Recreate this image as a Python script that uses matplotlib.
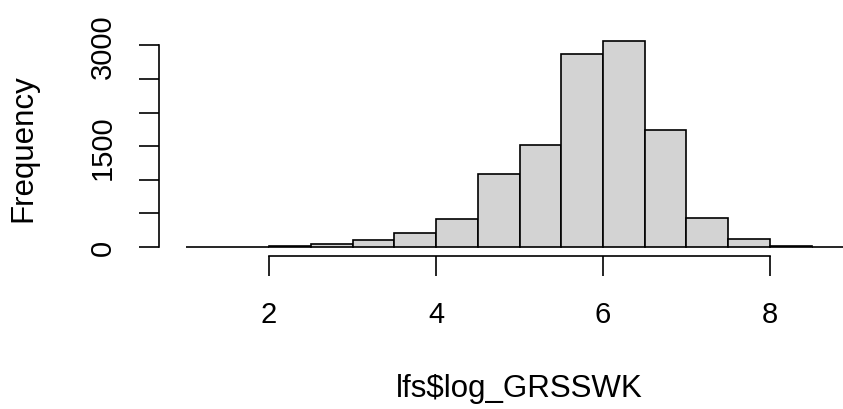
import matplotlib
matplotlib.use("Agg")
import matplotlib.pyplot as plt
import numpy as np

plt.rcParams['font.family'] = ['Liberation Sans', 'DejaVu Sans']

bin_edges = [1.0, 1.5, 2.0, 2.5, 3.0, 3.5, 4.0, 4.5, 5.0, 5.5, 6.0, 6.5, 7.0, 7.5, 8.0, 8.5, 9.0]
counts = [3, 1, 20, 50, 104, 204, 411, 1080, 1522, 2866, 3070, 1746, 431, 113, 12, 4]
x_ticks = [2, 4, 6, 8]
y_ticks = [0, 500, 1000, 1500, 2000, 2500, 3000]
y_tick_labels = ['0', '', '', '1500', '', '', '3000']
x_label = 'lfs$log_GRSSWK'
y_label = 'Frequency'

W, H = 843, 410
FS = 21
FS_LAB = 22.5
fig = plt.figure(figsize=(W / 100, H / 100), dpi=100)
ax = fig.add_axes([158.8 / W, 1 - 257 / H, (880.2 - 158.8) / W, (257 - 32) / H])
ax.set_xlim(0.68, 9.32)
ax.set_ylim(-134, 3214)

edges = np.array(bin_edges)
ax.bar(edges[:-1], counts, width=np.diff(edges), align='edge',
       color='#D3D3D3', edgecolor='black', linewidth=1.2, clip_on=False)

for s in ['top', 'right']:
    ax.spines[s].set_visible(False)
ax.spines['left'].set_bounds(0, 3000)
ax.spines['bottom'].set_bounds(2, 8)
for s in ['left', 'bottom']:
    ax.spines[s].set_linewidth(1.2)

ax.set_xticks(x_ticks)
ax.set_xticklabels([str(t) for t in x_ticks], fontsize=FS)
ax.set_yticks(y_ticks)
ax.set_yticklabels(y_tick_labels, fontsize=FS, rotation=90, va='center')
ax.tick_params(axis='both', length=14.4, width=1.2, direction='out')
ax.tick_params(axis='x', pad=17.5)
ax.tick_params(axis='y', pad=16)

fig.text(519 / W, 1 - 389 / H, x_label, fontsize=FS_LAB, ha='center', va='center')
fig.text(23 / W, 1 - 148 / H, y_label, fontsize=FS_LAB, ha='center', va='center', rotation=90)

fig.savefig('out.png', dpi=100)
